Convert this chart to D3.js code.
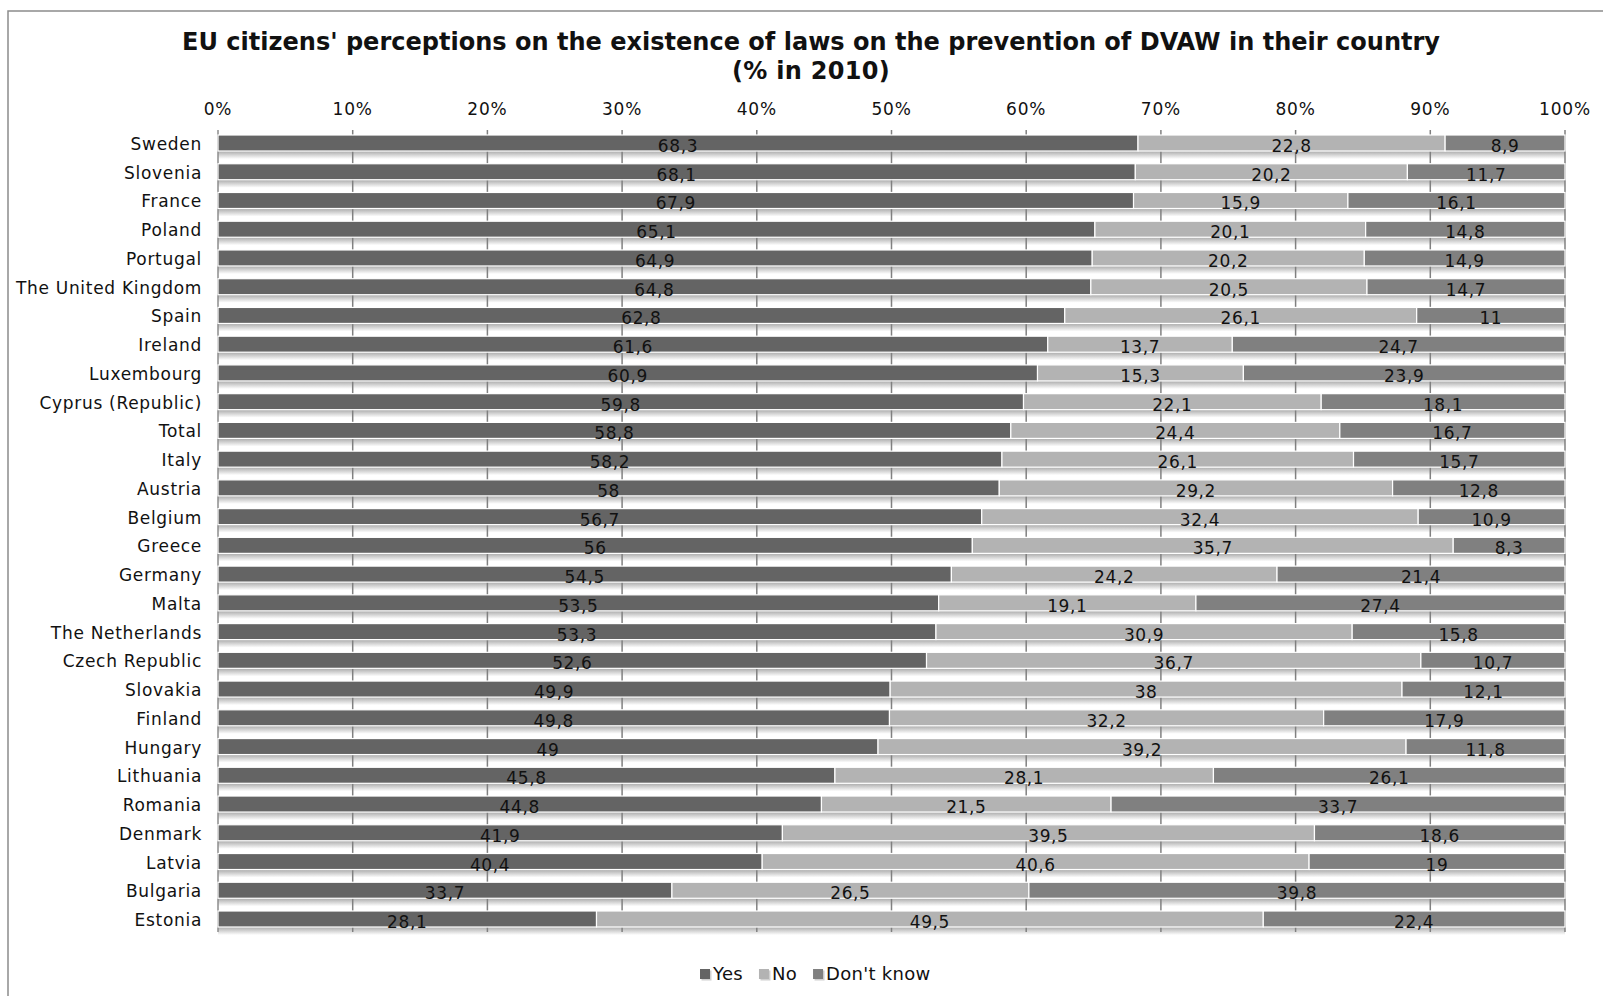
<!DOCTYPE html>
<html>
<head>
<meta charset="utf-8">
<script src="https://cdn.jsdelivr.net/npm/d3@7/dist/d3.min.js"></script>
<style>
  html, body { margin: 0; padding: 0; background: #fff; }
  svg { display: block; }
  text { font-family: "DejaVu Sans", Verdana, sans-serif; fill: #111; }
</style>
</head>
<body>
<svg id="chart" width="1603" height="996"></svg>
<script>
const titleLines = ["EU citizens' perceptions on the existence of laws on the prevention of DVAW in their country", "(% in 2010)"];
const categories = ["Sweden","Slovenia","France","Poland","Portugal","The United Kingdom","Spain","Ireland","Luxembourg","Cyprus (Republic)","Total","Italy","Austria","Belgium","Greece","Germany","Malta","The Netherlands","Czech Republic","Slovakia","Finland","Hungary","Lithuania","Romania","Denmark","Latvia","Bulgaria","Estonia"];
const seriesNames = ["Yes","No","Don't know"];
const yesValues = [68.3,68.1,67.9,65.1,64.9,64.8,62.8,61.6,60.9,59.8,58.8,58.2,58,56.7,56,54.5,53.5,53.3,52.6,49.9,49.8,49,45.8,44.8,41.9,40.4,33.7,28.1];
const noValues = [22.8,20.2,15.9,20.1,20.2,20.5,26.1,13.7,15.3,22.1,24.4,26.1,29.2,32.4,35.7,24.2,19.1,30.9,36.7,38,32.2,39.2,28.1,21.5,39.5,40.6,26.5,49.5];
const dkValues = [8.9,11.7,16.1,14.8,14.9,14.7,11,24.7,23.9,18.1,16.7,15.7,12.8,10.9,8.3,21.4,27.4,15.8,10.7,12.1,17.9,11.8,26.1,33.7,18.6,19,39.8,22.4];
const tickValues = [0,0.1,0.2,0.3,0.4,0.5,0.6,0.7,0.8,0.9,1];
const colors = ["#646464","#b3b3b3","#808080"];

const svg = d3.select("#chart");
const defs = svg.append("defs");
const grad = defs.append("linearGradient").attr("id","shadow").attr("x1",0).attr("y1",0).attr("x2",0).attr("y2",1);
grad.append("stop").attr("offset","0%").attr("stop-color","#aaaaaa");
grad.append("stop").attr("offset","100%").attr("stop-color","#ffffff");

// outer border (left and top visible)
svg.append("rect").attr("x",8).attr("y",11).attr("width",1700).attr("height",1100)
  .attr("fill","none").attr("stroke","#8c8c8c").attr("stroke-width",1.5);

// title
svg.append("text").attr("x",811).attr("y",50).attr("text-anchor","middle")
  .style("font-weight","bold").style("font-size","24px")
  .attr("textLength",1258).attr("lengthAdjust","spacingAndGlyphs")
  .text(titleLines[0]);
svg.append("text").attr("x",811).attr("y",79).attr("text-anchor","middle")
  .style("font-weight","bold").style("font-size","24px").style("letter-spacing","0.3px")
  .text(titleLines[1]);

const x = d3.scaleLinear().domain([0,1]).range([218,1565]);
const y = d3.scaleBand().domain(categories).range([130,932]).paddingInner(0.443).paddingOuter(0.174);

const rows = categories.map((c,i) => {
  const vals = [yesValues[i], noValues[i], dkValues[i]];
  const total = d3.sum(vals);
  let acc = 0;
  return {cat: c, segs: vals.map((v,k) => { const s = {k, v, x0: acc/total, x1: (acc+v)/total}; acc += v; return s; })};
});

// shadows beneath bars
svg.append("g").selectAll("rect").data(rows).join("rect")
  .attr("x", x(0)).attr("width", x(1)-x(0))
  .attr("y", d => y(d.cat)+y.bandwidth()).attr("height", 8)
  .attr("fill","url(#shadow)");

// gridlines
svg.append("g").selectAll("line").data(tickValues.slice(1)).join("line")
  .attr("x1", d => x(d)).attr("x2", d => x(d))
  .attr("y1", 130).attr("y2", 932)
  .attr("stroke","#808080").attr("stroke-width",1.5);

// left axis line
svg.append("line").attr("x1",x(0)).attr("x2",x(0)).attr("y1",130).attr("y2",932)
  .attr("stroke","#8c8c8c").attr("stroke-width",1.5);

// bars
const rowG = svg.append("g").selectAll("g").data(rows).join("g");
rowG.selectAll("rect").data(d => d.segs.map(s => ({...s, cat: d.cat}))).join("rect")
  .attr("x", d => x(d.x0)).attr("width", d => x(d.x1)-x(d.x0))
  .attr("y", d => y(d.cat)).attr("height", y.bandwidth())
  .attr("fill", d => colors[d.k]).attr("stroke","#fff").attr("stroke-width",1.2);

// value labels
rowG.selectAll("text").data(d => d.segs.map(s => ({...s, cat: d.cat}))).join("text")
  .attr("x", d => x((d.x0+d.x1)/2)).attr("y", d => y(d.cat)+y.bandwidth()+1)
  .attr("text-anchor","middle").style("font-size","17px").style("letter-spacing","0.6px")
  .text(d => String(d.v).replace(".", ","));

// category labels
svg.append("g").selectAll("text").data(categories).join("text")
  .attr("x", 202).attr("y", d => y(d)+y.bandwidth()-1)
  .attr("text-anchor","end").style("font-size","17px").style("letter-spacing","0.7px")
  .text(d => d);

// top tick labels
svg.append("g").selectAll("text").data(tickValues).join("text")
  .attr("x", d => x(d)).attr("y", 115).attr("text-anchor","middle")
  .style("font-size","17px").style("letter-spacing","0.8px")
  .text(d => d3.format(".0%")(d));

// legend
const lg = svg.append("g");
let lx = 700;
seriesNames.forEach((name,k) => {
  lg.append("rect").attr("x",lx+1.5).attr("y",970.5).attr("width",10).attr("height",10).attr("fill","#d0d0d0");
  lg.append("rect").attr("x",lx).attr("y",969).attr("width",10).attr("height",10).attr("fill",colors[k]);
  const t = lg.append("text").attr("x",lx+13).attr("y",980).style("font-size","18px").style("letter-spacing","0.3px").text(name);
  lx += 13 + t.node().getComputedTextLength() + 16;
});
</script>
</body>
</html>
